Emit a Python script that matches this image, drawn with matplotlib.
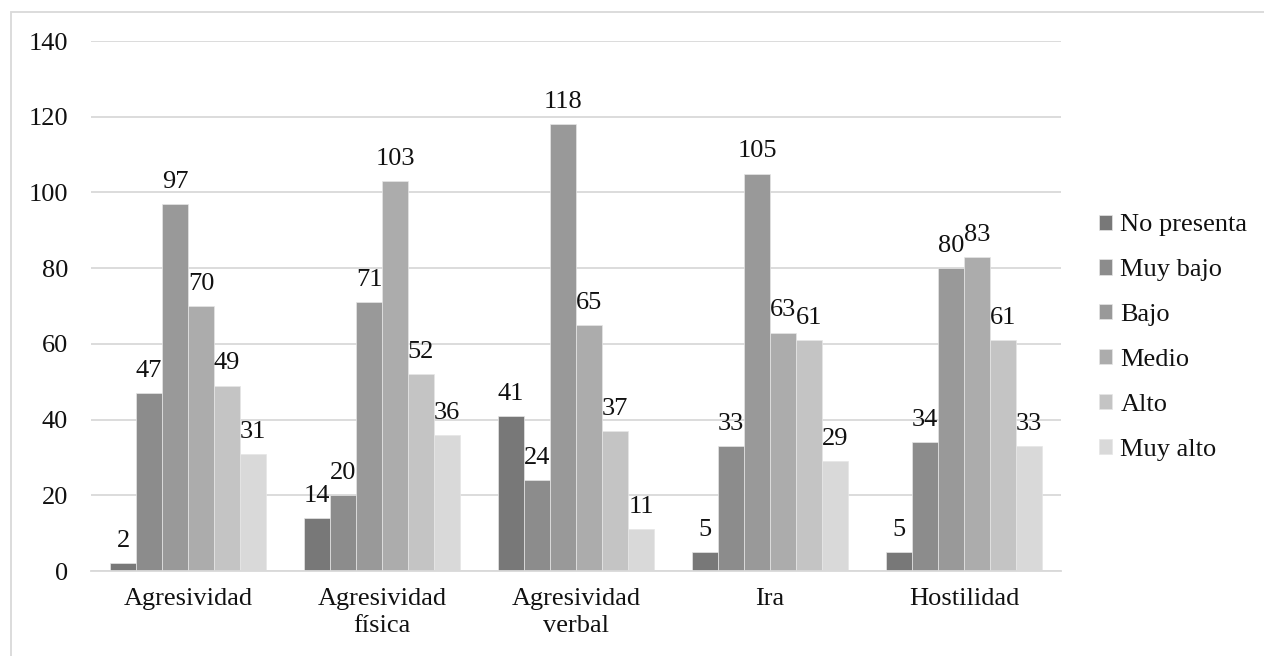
import numpy as np
import matplotlib.pyplot as plt
from matplotlib.patches import Rectangle

plt.rcParams['font.family'] = ['Liberation Serif', 'DejaVu Serif']

categorias = ['Agresividad', 'Agresividad\nfísica', 'Agresividad\nverbal', 'Ira', 'Hostilidad']
niveles = ['No presenta', 'Muy bajo', 'Bajo', 'Medio', 'Alto', 'Muy alto']
no_presenta = [2, 14, 41, 5, 5]
muy_bajo = [47, 20, 24, 33, 34]
bajo = [97, 71, 118, 105, 80]
medio = [70, 103, 65, 63, 83]
alto = [49, 52, 37, 61, 61]
muy_alto = [31, 36, 11, 29, 33]
series = [no_presenta, muy_bajo, bajo, medio, alto, muy_alto]
colores = ['#787878', '#8c8c8c', '#999999', '#acacac', '#c4c4c4', '#d9d9d9']

fs = 19
fig = plt.figure(figsize=(12.64, 6.56), dpi=100)
ax = fig.add_axes([91 / 1264, 1 - 571 / 656, (1061 - 91) / 1264, (571 - 41) / 656])

x = np.arange(len(categorias))
ancho = 0.134
for i, (vals, nom, col) in enumerate(zip(series, niveles, colores)):
    pos = x + (i - 2.5) * ancho
    bars = ax.bar(pos, vals, ancho, color=col, label=nom, zorder=2,
                  edgecolor='#e6e6e6', linewidth=0.5)
    for b, v in zip(bars, vals):
        ax.annotate(str(v), (b.get_x() + b.get_width() / 2, v), xytext=(0, 8),
                    textcoords='offset points', ha='center', va='bottom',
                    fontsize=fs, color='#111111')

ax.set_ylim(0, 140)
ax.set_xlim(-0.5, len(categorias) - 0.5)
ax.set_yticks(range(0, 141, 20))
ax.set_xticks(x)
ax.set_xticklabels(categorias, fontsize=fs, linespacing=1.3)
ax.tick_params(axis='y', labelsize=fs, length=0, pad=16.5, labelcolor='#111111')
ax.tick_params(axis='x', length=0, pad=12, labelcolor='#111111')
ax.grid(axis='y', color='#d9d9d9', linewidth=1.3, zorder=0)
for s in ['top', 'right', 'left']:
    ax.spines[s].set_visible(False)
ax.spines['bottom'].set_color('#d9d9d9')
ax.spines['bottom'].set_linewidth(1.3)

ax.legend(loc='center left', bbox_to_anchor=(1.015, 0.44), frameon=False, fontsize=fs,
          handlelength=0.5, handleheight=0.5, handletextpad=0.3, labelspacing=0.87,
          labelcolor='#111111')

fig.patches.append(Rectangle((11 / 1264, -0.1), 1.2, 1 - 12 / 656 + 0.1,
                             transform=fig.transFigure, fill=False, edgecolor='#d9d9d9',
                             linewidth=1.3))

fig.savefig('out.png', dpi=100)
